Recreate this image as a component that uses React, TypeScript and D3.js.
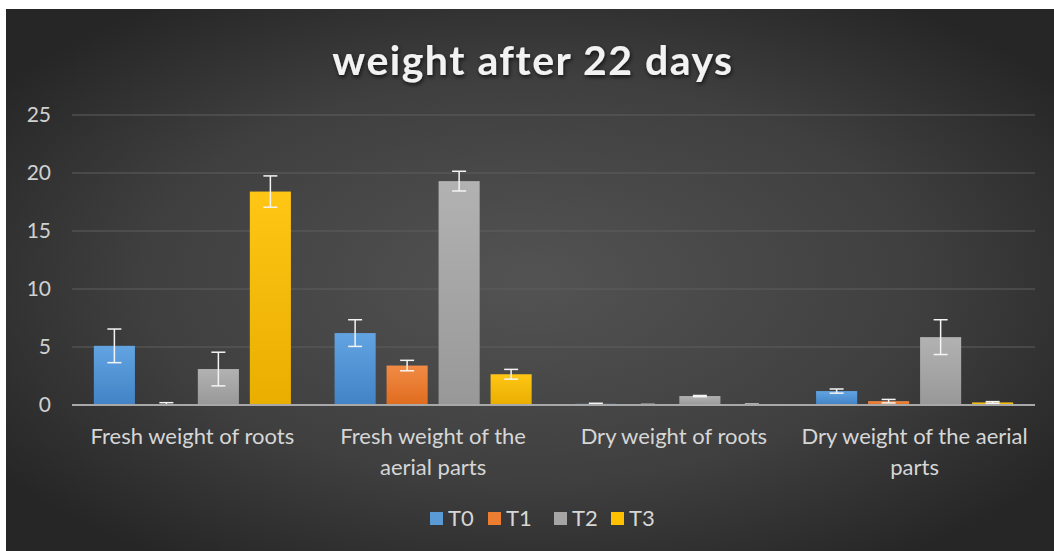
import React from 'react';
import * as d3 from 'd3';

const categories = [
  'Fresh weight of roots',
  'Fresh weight of the aerial parts',
  'Dry weight of roots',
  'Dry weight of the aerial parts',
];
const categoryLines = [
  ['Fresh weight of roots'],
  ['Fresh weight of the', 'aerial parts'],
  ['Dry weight of roots'],
  ['Dry weight of the aerial', 'parts'],
];
const seriesNames = ['T0', 'T1', 'T2', 'T3'];
const t0 = [5.1, 6.2, 0.1, 1.2];
const t1 = [0.05, 3.4, 0.03, 0.33];
const t2 = [3.1, 19.3, 0.77, 5.85];
const t3 = [18.4, 2.65, 0.05, 0.22];
const t0Err = [1.45, 1.15, 0.05, 0.18];
const t1Err = [0.15, 0.45, 0.02, 0.15];
const t2Err = [1.45, 0.85, 0.05, 1.5];
const t3Err = [1.35, 0.42, 0.02, 0.07];
const yTicks = [0, 5, 10, 15, 20, 25];

const seriesValues = [t0, t1, t2, t3];
const seriesErrors = [t0Err, t1Err, t2Err, t3Err];
const seriesColors = [
  ['#62a3e2', '#4283c6'],
  ['#f28b45', '#df6c1f'],
  ['#b2b2b2', '#989898'],
  ['#ffc615', '#e9ae00'],
];
const legendColors = ['#5b9bd5', '#ed7d31', '#a5a5a5', '#ffc000'];

const W = 1054;
const H = 551;
const margin = { left: 72, right: 19, top: 115, bottom: 146 };
const font = 'Lato, "Open Sans", sans-serif';

const App: React.FC = () => {
  const x0 = d3.scaleBand<string>()
    .domain(categories)
    .range([margin.left, W - margin.right])
    .paddingInner(0)
    .paddingOuter(0);

  const x1 = d3.scaleBand<string>()
    .domain(seriesNames)
    .range([0, x0.bandwidth()])
    .paddingInner(0.21)
    .paddingOuter(0.42);

  const y = d3.scaleLinear()
    .domain([0, 25])
    .range([H - margin.bottom, margin.top]);

  const legendX = [430, 488, 554, 611];

  return (
    <svg
      width={W}
      height={H}
      style={{ position: 'absolute', left: 0, top: 0, background: '#fff' }}
    >
      <defs>
        <radialGradient id="bg" cx="50%" cy="50%" r="62%">
          <stop offset="0%" stopColor="#535353" />
          <stop offset="60%" stopColor="#3f3f3f" />
          <stop offset="100%" stopColor="#262626" />
        </radialGradient>
        {seriesColors.map((c, i) => (
          <linearGradient key={i} id={`g${i}`} x1="0" y1="0" x2="0" y2="1">
            <stop offset="0%" stopColor={c[0]} />
            <stop offset="100%" stopColor={c[1]} />
          </linearGradient>
        ))}
        <filter id="shadow" x="-10%" y="-30%" width="120%" height="160%">
          <feDropShadow dx="1" dy="2" stdDeviation="2" floodColor="#000" floodOpacity="0.7" />
        </filter>
      </defs>

      <rect x={6} y={9} width={W - 6} height={H - 9} fill="url(#bg)" />

      <text
        x={533}
        y={75}
        textAnchor="middle"
        fill="#f2f2f2"
        fontFamily={font}
        fontWeight="bold"
        fontSize={41}
        letterSpacing="1.5"
        filter="url(#shadow)"
      >
        weight after 22 days
      </text>

      {/* gridlines */}
      {yTicks.filter(t => t > 0).map(t => (
        <line
          key={t}
          x1={margin.left}
          x2={W - margin.right}
          y1={y(t)}
          y2={y(t)}
          stroke="#5e5e5e"
          strokeWidth={1}
        />
      ))}

      {/* y tick labels */}
      {yTicks.map(t => (
        <text
          key={t}
          x={51}
          y={y(t) + 7}
          textAnchor="end"
          fill="#d0d0d0"
          fontFamily={font}
          fontSize={21}
        >
          {t}
        </text>
      ))}

      {/* bars */}
      {categories.map((cat, ci) => (
        <g key={cat} transform={`translate(${x0(cat)},0)`}>
          {seriesNames.map((s, si) => {
            const v = seriesValues[si][ci];
            const e = seriesErrors[si][ci];
            const bx = x1(s) as number;
            const bw = x1.bandwidth();
            const cx = bx + bw / 2;
            return (
              <g key={s}>
                <rect
                  x={bx}
                  y={y(v)}
                  width={bw}
                  height={y(0) - y(v)}
                  fill={`url(#g${si})`}
                />
                <line x1={cx} x2={cx} y1={y(v + e)} y2={y(Math.max(0, v - e))} stroke="#f4f4f4" strokeWidth={1.5} />
                <line x1={cx - 7} x2={cx + 7} y1={y(v + e)} y2={y(v + e)} stroke="#f4f4f4" strokeWidth={1.5} />
                <line x1={cx - 7} x2={cx + 7} y1={y(Math.max(0, v - e))} y2={y(Math.max(0, v - e))} stroke="#f4f4f4" strokeWidth={1.5} />
              </g>
            );
          })}
        </g>
      ))}

      {/* axis baseline */}
      <line
        x1={margin.left}
        x2={W - margin.right}
        y1={y(0)}
        y2={y(0)}
        stroke="#a8a8a8"
        strokeWidth={2}
      />

      {/* category labels */}
      {categories.map((cat, ci) => (
        <text
          key={cat}
          x={(x0(cat) as number) + x0.bandwidth() / 2}
          y={444}
          textAnchor="middle"
          fill="#d6d6d6"
          fontFamily={font}
          fontSize={22}
        >
          {categoryLines[ci].map((ln, li) => (
            <tspan key={li} x={(x0(cat) as number) + x0.bandwidth() / 2} dy={li === 0 ? 0 : 31}>
              {ln}
            </tspan>
          ))}
        </text>
      ))}

      {/* legend */}
      {seriesNames.map((s, i) => (
        <g key={s} transform={`translate(${legendX[i]},512)`}>
          <rect x={0} y={0} width={13} height={13} fill={legendColors[i]} />
          <text x={18} y={14} fill="#d6d6d6" fontFamily={font} fontSize={22}>
            {s}
          </text>
        </g>
      ))}
    </svg>
  );
};

export default App;
